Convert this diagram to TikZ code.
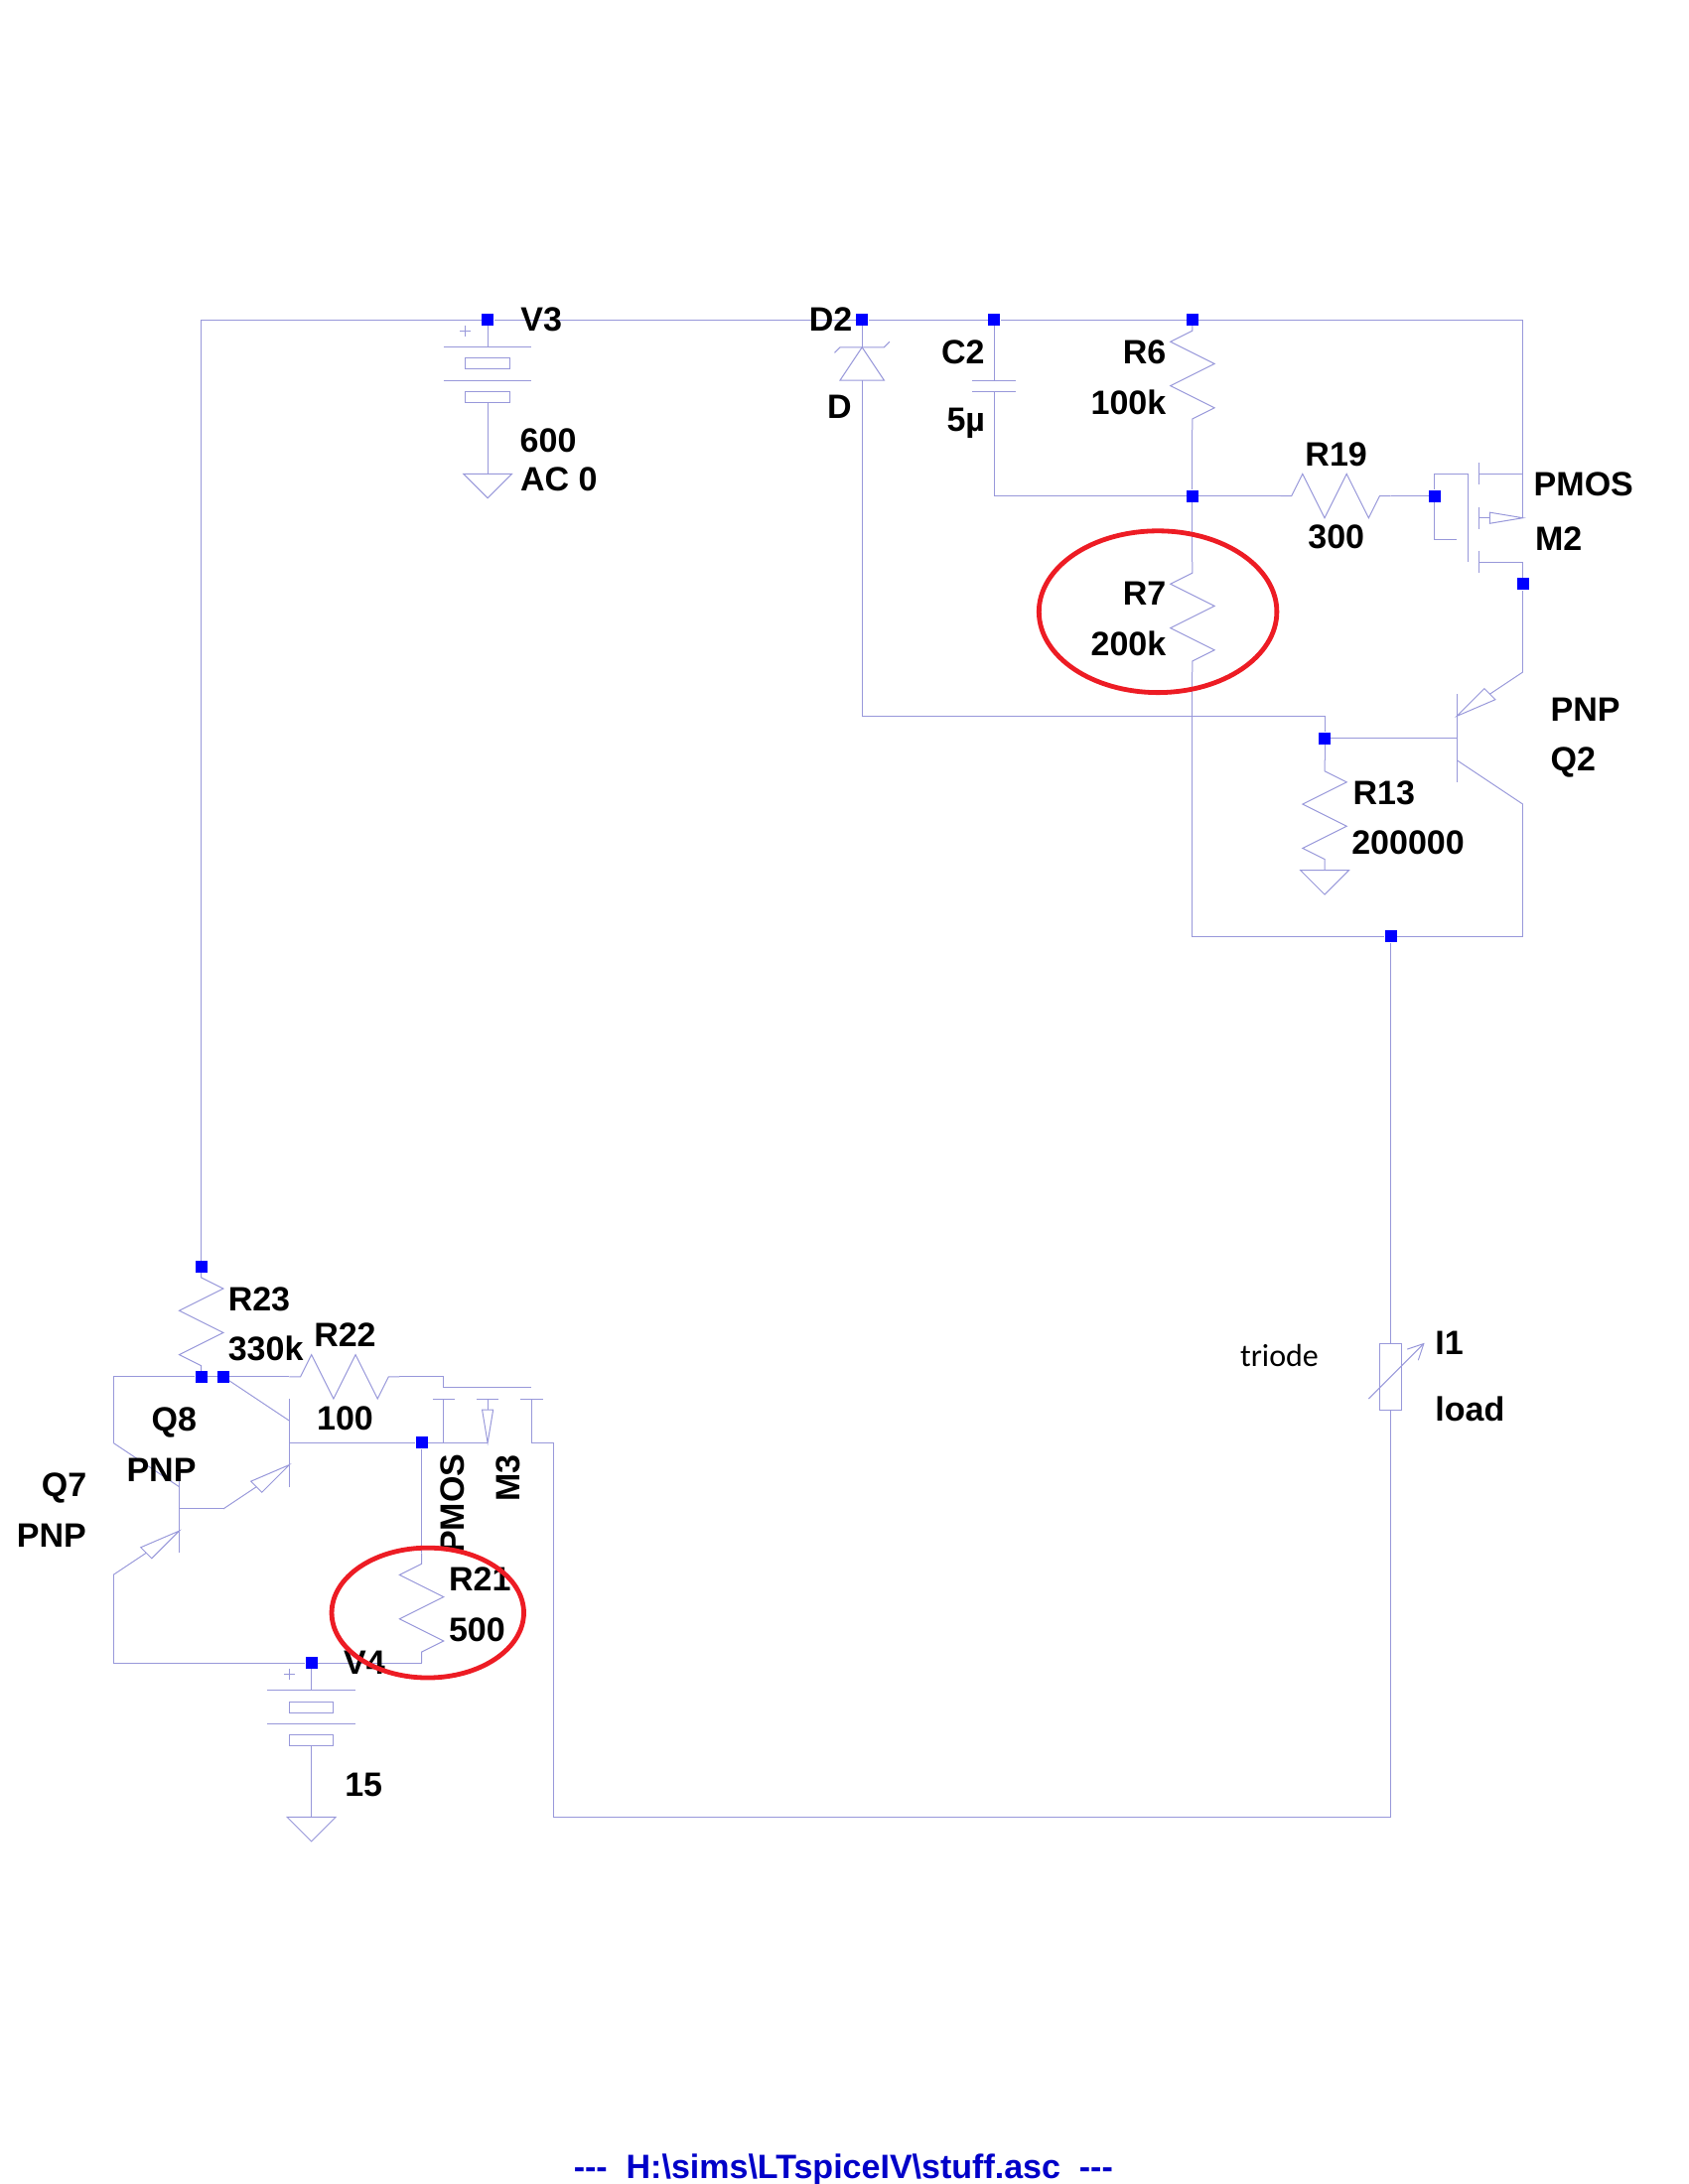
\documentclass[tikz,border=0pt]{standalone}
\usepackage{fontspec}
\usepackage{xcolor}
\usepackage{tikz}
\setmainfont{Liberation Sans}
\newfontfamily\notefont{Carlito}
\definecolor{wirec}{HTML}{9898DA}
\definecolor{jnc}{HTML}{0000FF}
\definecolor{ringc}{HTML}{ED1C24}
\definecolor{footc}{HTML}{0000C8}
\tikzset{
  wire/.style={draw=wirec, line width=0.5pt},
  jn/.style={rectangle, fill=jnc, inner sep=0pt, minimum size=6pt},
  lab/.style={anchor=west, inner sep=0pt, text=black, font=\fontsize{17}{20}\selectfont\bfseries},
  ring/.style={draw=ringc, line width=2.4pt},
  pics/resv/.style={code={\draw[wire] (0,0)--(0,.5)--(#1,1)--(-#1,2)--(#1,3)--(-#1,4)--(0,4.5)--(0,5);}},
  pics/resh/.style={code={\draw[wire] (0,0)--(.5,0)--(1,-1)--(2,1)--(3,-1)--(4,1)--(4.5,0)--(5,0);}},
  pics/gnd/.style={code={\draw[wire] (-1.1,0)--(1.1,0)--(0,1.1)--cycle;}},
  pics/batt/.style={code={
    \draw[wire] (0,0)--(0,1.25);
    \draw[wire] (-2,1.25)--(2,1.25);
    \draw[wire] (-1,1.75) rectangle (1,2.25);
    \draw[wire] (-2,2.75)--(2,2.75);
    \draw[wire] (-1,3.25) rectangle (1,3.75);
    \draw[wire] (0,3.75)--(0,7);
    \draw[wire] (-1.25,.5)--(-.75,.5);
    \draw[wire] (-1,.25)--(-1,.75);
  }},
  pics/pnpq/.style={code={
    \draw[wire] (0,-2)--(0,2);
    \draw[wire] (0,1)--(3,3);
    \draw[wire] (0,-1)--(1.25,-2.25)--(1.75,-1.75)--cycle;
    \draw[wire] (1.5,-2)--(3,-3);
  }}
}

\begin{document}
\begin{tikzpicture}[x=11.085pt,y=-11.085pt]
  \useasboundingbox (-9.14,-14.52) rectangle (67.5,84.66);

  % pins
  \coordinate (D2k) at (30,1.25);
  \coordinate (D2a) at (30,2.75);
  \coordinate (D2e) at (51,18);
  \coordinate (C2t) at (36,2.75);
  \coordinate (C2b) at (36,3.25);
  \coordinate (R6t) at (45,0);
  \coordinate (R6b) at (45,5);
  \coordinate (R7t) at (45,11);
  \coordinate (R7b) at (45,16);
  \coordinate (R19l) at (49,8);
  \coordinate (R19r) at (54,8);
  \coordinate (M2s) at (60,9);
  \coordinate (M2b) at (60,11);
  \coordinate (M2t) at (57.5,7);
  \coordinate (M2p) at (57,10);
  \coordinate (Q2b) at (57,19);
  \coordinate (Q2e) at (60,16);
  \coordinate (Q2c) at (60,22);
  \coordinate (R13t) at (51,20);
  \coordinate (I1t) at (54,46.5);
  \coordinate (I1b) at (54,49.5);
  \coordinate (lowc) at (16,68);
  \coordinate (M3s) at (15,51);
  \coordinate (Q8b) at (4,51);
  \coordinate (Q8e) at (1,54);
  \coordinate (Q7b) at (-1,54);
  \coordinate (Q7c) at (-4,51);
  \coordinate (Q7e) at (-4,57);
  \coordinate (R23t) at (0,43);
  \coordinate (R21t) at (10,56);
  \coordinate (R21b) at (10,61);
  \coordinate (R22l) at (4,48);
  \coordinate (R22r) at (9,48);
  \coordinate (M3g) at (11,48.5);
  \coordinate (M3h) at (15,48.5);
  \coordinate (M3p) at (13,51);

  % parts
  \pic at (R23t) {resv=1};
  \pic at (R6t) {resv=-1};
  \pic at (R7t) {resv=-1};
  \pic at (R13t) {resv=1};
  \pic at (R21t) {resv=-1};
  \pic at (R19l) {resh};
  \pic at (R22l) {resh};
  \pic at (13,0) {batt};
  \pic at (5,61) {batt};
  \pic at (13,7) {gnd};
  \pic at (5,68) {gnd};
  \pic at (51,25) {gnd};
  \pic at (Q2b) {pnpq};
  \pic[rotate=180] at (Q8b) {pnpq};
  \pic[rotate=180] at (Q7b) {pnpq};

  % junctions
  \node[jn] (jV3) at (13,0) {};
  \node[jn] (jD2) at (30,0) {};
  \node[jn] (jC2) at (36,0) {};
  \node[jn] (jR6) at (R6t) {};
  \node[jn] (jR7) at (45,8) {};
  \node[jn] (jM2g) at (56,8) {};
  \node[jn] (jM2d) at (60,12) {};
  \node[jn] (jR13) at (51,19) {};
  \node[jn] (jout) at (54,28) {};
  \node[jn] (jR23t) at (R23t) {};
  \node[jn] (jR23b) at (0,48) {};
  \node[jn] (jQ8c) at (1,48) {};
  \node[jn] (jM3) at (10,51) {};
  \node[jn] (jV4) at (5,61) {};

  % wires
  \draw[wire] (jR23t) |- (jV3);
  \draw[wire] (jV3)--(jD2);
  \draw[wire] (jD2)--(jC2);
  \draw[wire] (jC2)--(jR6);
  \draw[wire] (jR6) -| (M2s);
  \draw[wire] (jD2)--(D2k);
  \draw[wire] (D2a) |- (D2e)--(jR13);
  \draw[wire] (jC2)--(C2t);
  \draw[wire] (C2b) |- (jR7);
  \draw[wire] (R6b)--(jR7);
  \draw[wire] (jR7)--(R7t);
  \draw[wire] (jR7)--(R19l);
  \draw[wire] (R19r)--(jM2g);
  \draw[wire] (M2t) -| (jM2g);
  \draw[wire] (jM2g) |- (M2p);
  \draw[wire] (M2b)--(jM2d);
  \draw[wire] (jM2d)--(Q2e);
  \draw[wire] (jR13)--(Q2b);
  \draw[wire] (jR13)--(R13t);
  \draw[wire] (R7b) |- (jout);
  \draw[wire] (jout) -| (Q2c);
  \draw[wire] (jout)--(I1t);
  \draw[wire] (I1b) |- (lowc) |- (M3s);
  \draw[wire] (jR23b)--(jQ8c);
  \draw[wire] (jQ8c)--(R22l);
  \draw[wire] (jR23b) -| (Q7c);
  \draw[wire] (Q7e) |- (jV4);
  \draw[wire] (jV4) -| (R21b);
  \draw[wire] (jM3)--(R21t);
  \draw[wire] (Q8b)--(jM3);
  \draw[wire] (jM3)--(M3p);
  \draw[wire] (Q8e)--(Q7b);
  \draw[wire] (R22r) -| (M3g)--(M3h);

  % zener
  \draw[wire] (29,2.75)--(31,2.75)--(30,1.25)--cycle;
  \draw[wire] (28.75,1.5)--(29,1.25)--(31,1.25)--(31.25,1);
  % cap
  \draw[wire] (35,2.75)--(37,2.75);
  \draw[wire] (35,3.25)--(37,3.25);
  % M2
  \draw[wire] (57.5,7)--(57.5,11);
  \draw[wire] (58,6.5)--(58,7.5);
  \draw[wire] (58,8.5)--(58,9.5);
  \draw[wire] (58,10.5)--(58,11.5);
  \draw[wire] (58,7)--(60,7);
  \draw[wire] (58,11)--(60,11);
  \draw[wire] (58,9)--(58.5,9);
  \draw[wire] (58.5,8.75)--(60,9)--(58.5,9.25)--cycle;
  % M3
  \draw[wire] (10.5,49)--(11.5,49);
  \draw[wire] (12.5,49)--(13.5,49);
  \draw[wire] (14.5,49)--(15.5,49);
  \draw[wire] (11,49)--(11,51);
  \draw[wire] (13,49)--(13,49.5);
  \draw[wire] (12.75,49.5)--(13.25,49.5)--(13,51)--cycle;
  \draw[wire] (15,49)--(15,51);
  % I1
  \draw[wire] (53.5,46.5) rectangle (54.5,49.5);
  \draw[wire] (53,49)--(55.5,46.5);
  \draw[wire] (54.75,46.75)--(55.5,46.5)--(55.25,47.25);

  % labels
  \node[lab] (tV3) at (14.48,0) {V3};
  \node[lab] (t600) at (14.45,5.48) {600};
  \node[lab] (tAC) at (14.47,7.25) {AC 0};
  \node[lab] (tD2) at (27.58,0) {D2};
  \node[lab] (tD) at (28.4,3.96) {D};
  \node[lab] (tC2) at (33.58,1.49) {C2};
  \node[lab] (t5u) at (33.83,4.7) {5µ};
  \node[lab] (tR6) at (41.82,1.49) {R6};
  \node[lab] (t100k) at (40.37,3.77) {100k};
  \node[lab] (tR7) at (41.82,12.45) {R7};
  \node[lab] (t200k) at (40.37,14.73) {200k};
  \node[lab] (tR19) at (50.1,6.11) {R19};
  \node[lab] (t300) at (50.23,9.86) {300};
  \node[lab] (tPM2) at (60.48,7.47) {PMOS};
  \node[lab] (tM2) at (60.54,9.94) {M2};
  \node[lab] (tPQ2) at (61.24,17.72) {PNP};
  \node[lab] (tQ2) at (61.24,20.1) {Q2};
  \node[lab] (tR13) at (52.27,21.49) {R13};
  \node[lab] (t2e5) at (52.21,23.76) {200000};
  \node[lab] (tI1) at (56,46.48) {I1};
  \node[lab] (tload) at (56,49.48) {load};
  \node[lab,font=\notefont\fontsize{16}{19}\selectfont] (ttri) at (47.15,47.05) {triode};
  \node[lab] (tR23) at (1.2,44.5) {R23};
  \node[lab] (t330k) at (1.2,46.7) {330k};
  \node[lab] (tR22) at (5.1,46.1) {R22};
  \node[lab] (t100) at (5.23,49.88) {100};
  \node[lab] (tQ8) at (-2.28,50.1) {Q8};
  \node[lab] (tPQ8) at (-3.41,52.24) {PNP};
  \node[lab] (tQ7) at (-7.27,53.07) {Q7};
  \node[lab] (tPQ7) at (-8.4,55.21) {PNP};
  \node[lab,rotate=90] (tPM3) at (11.42,56.04) {PMOS};
  \node[lab,rotate=90] (tM3) at (13.94,53.7) {M3};
  \node[lab] (tR21) at (11.22,57.2) {R21};
  \node[lab] (t500) at (11.22,59.48) {500};
  \node[lab] (tV4) at (6.45,60.96) {V4};
  \node[lab] (t15) at (6.5,66.52) {15};
  \node[lab,anchor=center,text=footc] (tfoot) at (29.15,84) {{-}{-}{-}\ \ H:\textbackslash sims\textbackslash LTspiceIV\textbackslash stuff.asc\ \ {-}{-}{-}};

  % red rings
  \draw[ring] (43.43,13.26) ellipse (5.4 and 3.67);
  \draw[ring] (10.28,58.72) ellipse (4.36 and 2.95);
\end{tikzpicture}
\end{document}
